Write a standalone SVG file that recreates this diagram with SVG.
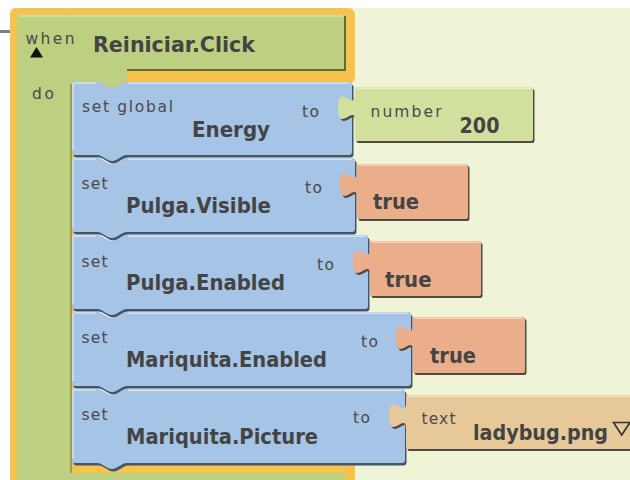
<svg xmlns="http://www.w3.org/2000/svg" xmlns:xlink="http://www.w3.org/1999/xlink" width="630" height="480" viewBox="0 0 630 480">
<style>
.s{font-family:"DejaVu Sans","Liberation Sans",sans-serif;font-size:15.5px;fill:#4a4a4a}
.b{font-family:"DejaVu Sans","Liberation Sans",sans-serif;font-size:21px;font-weight:bold;fill:#444}
.blue{fill:#A6C4E6}
.bsh{fill:#46546A}
.vsh{fill:#4E4A44}
.num{fill:#D2E09E}
.bool{fill:#EBAE8A}
.txt{fill:#E7C999}
.hlb{stroke:#D3E3F5;stroke-width:1.5;fill:none}
</style>
<defs>
<path id="p1" d="M72,85 Q72,82 75,82 H97 C103,82 106,88 112,88 C118,88 121,82 127,82 H349 Q352,82 352,85 V152 Q352,155 349,155 H127 C121,155 118,161 112,161 C106,161 103,155 97,155 H75 Q72,155 72,152 Z"/>
<path id="p2" d="M72,161 Q72,158 75,158 H97 C103,158 106,164 112,164 C118,164 121,158 127,158 H352 Q355,158 355,161 V229 Q355,232 352,232 H127 C121,232 118,238 112,238 C106,238 103,232 97,232 H75 Q72,232 72,229 Z"/>
<path id="p3" d="M72,238 Q72,235 75,235 H97 C103,235 106,241 112,241 C118,241 121,235 127,235 H365 Q368,235 368,238 V306 Q368,309 365,309 H127 C121,309 118,315 112,315 C106,315 103,309 97,309 H75 Q72,309 72,306 Z"/>
<path id="p4" d="M72,315 Q72,312 75,312 H97 C103,312 106,318 112,318 C118,318 121,312 127,312 H408 Q411,312 411,315 V383 Q411,386 408,386 H127 C121,386 118,392 112,392 C106,392 103,386 97,386 H75 Q72,386 72,383 Z"/>
<path id="p5" d="M72,392 Q72,389 75,389 H97 C103,389 106,395 112,395 C118,395 121,389 127,389 H402 Q405,389 405,392 V460 Q405,463 402,463 H127 C121,463 118,469 112,469 C106,469 103,463 97,463 H75 Q72,463 72,460 Z"/>
<path id="v1" d="M355,89 Q355,87 357,87 H531 Q533,87 533,89 V139 Q533,141 531,141 H357 Q355,141 355,139 V120.5 C355,103.5 338,134.1 338,107.75 C338,81.4 355,112 355,95 Z"/>
<path id="v2" d="M357,166 Q357,164 359,164 H466 Q468,164 468,166 V217 Q468,219 466,219 H359 Q357,219 357,217 V197.5 C357,180.5 340,211.1 340,184.75 C340,158.4 357,189 357,172 Z"/>
<path id="v3" d="M370,243 Q370,241 372,241 H479 Q481,241 481,243 V294 Q481,296 479,296 H372 Q370,296 370,294 V274.5 C370,257.5 353,288.1 353,261.75 C353,235.4 370,266 370,249 Z"/>
<path id="v4" d="M413,319 Q413,317 415,317 H523 Q525,317 525,319 V371 Q525,373 523,373 H415 Q413,373 413,371 V350.5 C413,333.5 396,364.1 396,337.75 C396,311.4 413,342 413,325 Z"/>
<path id="v5" d="M406,397 Q406,395 408,395 H640 V449 H408 Q406,449 406,447 V428.5 C406,411.5 389,442.1 389,415.75 C389,389.4 406,420 406,403 Z"/>
</defs>

<rect x="0" y="0" width="630" height="480" fill="#FFFFFF"/>
<rect x="10" y="8" width="620" height="472" fill="#EEF4D5"/>
<rect x="0" y="30" width="14" height="3" fill="#7C7C98"/>

<g id="event">
  <rect x="10" y="8" width="345" height="76" rx="7" fill="#F6C34F"/>
  <rect x="10" y="8" width="64" height="480" rx="7" fill="#F6C34F"/>
  <rect x="62" y="456" width="293" height="40" rx="7" fill="#F6C34F"/>
  <path d="M17,17 Q17,15 19,15 H343 Q345,15 345,17 V70 H127 V88 H70 V490 H17 Z" fill="#BDCF80"/>
  <path d="M127,70 H345 V16" fill="none" stroke="#5F6C34" stroke-width="2"/>
  <line x1="19" y1="16" x2="343" y2="16" stroke="#D8E4AA" stroke-width="1.5"/>
  <line x1="71" y1="84" x2="71" y2="480" stroke="#7F8E4C" stroke-width="1.5"/>
  <rect x="17" y="473" width="328" height="20" fill="#BDCF80"/>
  <text class="s" x="25.5" y="44" textLength="49">when</text>
  <polygon points="30,57.5 36.5,47 43,57.5" fill="#111"/>
  <text class="b" x="93" y="52" textLength="162" lengthAdjust="spacingAndGlyphs">Reiniciar.Click</text>
  <text class="s" x="32" y="99" textLength="22">do</text>
</g>

<g id="setEnergy">
  <use xlink:href="#p1" class="bsh" transform="translate(1.5,2.5)"/>
  <use xlink:href="#p1" class="blue"/>
  <path d="M73,150 V85 Q73,83 75,83 H96" class="hlb"/>
  <path d="M128,83.2 H349" class="hlb"/>
  <text class="s" x="82" y="112" textLength="91">set global</text>
  <text class="b" x="192" y="137" textLength="78" lengthAdjust="spacingAndGlyphs">Energy</text>
  <text class="s" x="302" y="117" textLength="17">to</text>
</g>

<g id="setPulgaVisible">
  <use xlink:href="#p2" class="bsh" transform="translate(1.5,2.5)"/>
  <use xlink:href="#p2" class="blue"/>
  <path d="M73,227 V161 Q73,159 75,159 H96" class="hlb"/>
  <path d="M128,159.2 H352" class="hlb"/>
  <text class="s" x="81.5" y="189" textLength="26">set</text>
  <text class="b" x="126" y="213" textLength="145" lengthAdjust="spacingAndGlyphs">Pulga.Visible</text>
  <text class="s" x="305" y="193" textLength="17">to</text>
</g>

<g id="setPulgaEnabled">
  <use xlink:href="#p3" class="bsh" transform="translate(1.5,2.5)"/>
  <use xlink:href="#p3" class="blue"/>
  <path d="M73,304 V238 Q73,236 75,236 H96" class="hlb"/>
  <path d="M128,236.2 H365" class="hlb"/>
  <text class="s" x="81.5" y="266.5" textLength="26">set</text>
  <text class="b" x="126" y="290" textLength="159" lengthAdjust="spacingAndGlyphs">Pulga.Enabled</text>
  <text class="s" x="317" y="270" textLength="17">to</text>
</g>

<g id="setMariquitaEnabled">
  <use xlink:href="#p4" class="bsh" transform="translate(1.5,2.5)"/>
  <use xlink:href="#p4" class="blue"/>
  <path d="M73,381 V315 Q73,313 75,313 H96" class="hlb"/>
  <path d="M128,313.2 H408" class="hlb"/>
  <text class="s" x="81.5" y="343" textLength="26">set</text>
  <text class="b" x="126" y="366.5" textLength="201" lengthAdjust="spacingAndGlyphs">Mariquita.Enabled</text>
  <text class="s" x="361" y="346.5" textLength="17">to</text>
</g>

<g id="setMariquitaPicture">
  <use xlink:href="#p5" class="bsh" transform="translate(1.5,2.5)"/>
  <use xlink:href="#p5" class="blue"/>
  <path d="M73,458 V392 Q73,390 75,390 H96" class="hlb"/>
  <path d="M128,390.2 H402" class="hlb"/>
  <text class="s" x="81.5" y="420" textLength="26">set</text>
  <text class="b" x="126" y="444" textLength="192" lengthAdjust="spacingAndGlyphs">Mariquita.Picture</text>
  <text class="s" x="353" y="423" textLength="17">to</text>
</g>

<g id="number200">
  <use xlink:href="#v1" class="vsh" transform="translate(1.5,2)"/>
  <use xlink:href="#v1" class="num"/>
  <line x1="357" y1="88.2" x2="531" y2="88.2" stroke="#E9F0CC" stroke-width="1.5"/>
  <text class="s" x="370.5" y="116.5" textLength="71">number</text>
  <text class="b" x="459.5" y="132.5" textLength="40" lengthAdjust="spacingAndGlyphs">200</text>
</g>

<g id="true1">
  <use xlink:href="#v2" class="vsh" transform="translate(1.5,2)"/>
  <use xlink:href="#v2" class="bool"/>
  <line x1="359" y1="165.2" x2="466" y2="165.2" stroke="#F7D3BD" stroke-width="1.5"/>
  <text class="b" x="373" y="208.5" textLength="46" lengthAdjust="spacingAndGlyphs">true</text>
</g>

<g id="true2">
  <use xlink:href="#v3" class="vsh" transform="translate(1.5,2)"/>
  <use xlink:href="#v3" class="bool"/>
  <line x1="372" y1="242.2" x2="479" y2="242.2" stroke="#F7D3BD" stroke-width="1.5"/>
  <text class="b" x="385" y="286.5" textLength="46.5" lengthAdjust="spacingAndGlyphs">true</text>
</g>

<g id="true3">
  <use xlink:href="#v4" class="vsh" transform="translate(1.5,2)"/>
  <use xlink:href="#v4" class="bool"/>
  <line x1="415" y1="318.2" x2="523" y2="318.2" stroke="#F7D3BD" stroke-width="1.5"/>
  <text class="b" x="430" y="362.5" textLength="46" lengthAdjust="spacingAndGlyphs">true</text>
</g>

<g id="textLadybug">
  <use xlink:href="#v5" class="vsh" transform="translate(1.5,2)"/>
  <use xlink:href="#v5" class="txt"/>
  <line x1="408" y1="396.2" x2="630" y2="396.2" stroke="#F4E2C4" stroke-width="1.5"/>
  <text class="s" x="421.5" y="424" textLength="34">text</text>
  <text class="b" x="473" y="440" textLength="135" lengthAdjust="spacingAndGlyphs">ladybug.png</text>
  <polygon points="613.5,422.5 630,422.5 621.7,435" fill="none" stroke="#333" stroke-width="1.6"/>
</g>

<g id="connectors"></g>
</svg>
